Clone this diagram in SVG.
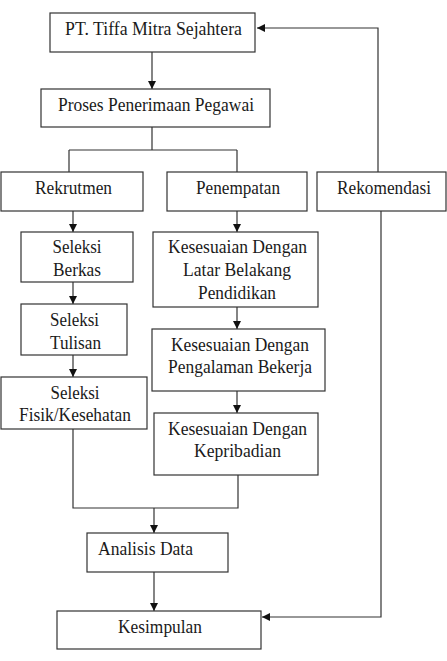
<svg xmlns="http://www.w3.org/2000/svg" width="447" height="661" viewBox="0 0 447 661">
<style>
.box{fill:#fff;stroke:#333;stroke-width:1.2}
.t{font-family:"Liberation Serif","Times New Roman",serif;font-size:18.5px;fill:#1a1a1a;text-anchor:middle}
.c{fill:none;stroke:#333;stroke-width:1.2}
</style>
<defs>
<marker id="ah" viewBox="0 0 10 10" refX="10" refY="5" markerWidth="8" markerHeight="8" markerUnits="userSpaceOnUse" orient="auto">
<path d="M0,0 L10,5 L0,10 z" fill="#111"/>
</marker>
</defs>
<rect width="447" height="661" fill="#fff"/>
<g id="connectors">
<path class="c" d="M152,52 V89" marker-end="url(#ah)"/>
<path class="c" d="M152,127 V150 M69,150 H237 M69,150 V172 M237,150 V172"/>
<path class="c" d="M378,172 V28 H257" marker-end="url(#ah)"/>
<path class="c" d="M381,211 V617 H262" marker-end="url(#ah)"/>
<path class="c" d="M73,211 V232" marker-end="url(#ah)"/>
<path class="c" d="M73,282 V304" marker-end="url(#ah)"/>
<path class="c" d="M73,355 V377" marker-end="url(#ah)"/>
<path class="c" d="M237,211 V232" marker-end="url(#ah)"/>
<path class="c" d="M237,307 V329" marker-end="url(#ah)"/>
<path class="c" d="M237,391 V413" marker-end="url(#ah)"/>
<path class="c" d="M73,429 V508 H238 V475"/>
<path class="c" d="M154,508 V533" marker-end="url(#ah)"/>
<path class="c" d="M154,572 V611" marker-end="url(#ah)"/>
</g>
<g id="n-pt"><rect class="box" x="50" y="13" width="205" height="39"/><text class="t" x="153.5" y="35" textLength="177" lengthAdjust="spacingAndGlyphs">PT. Tiffa Mitra Sejahtera</text></g>
<g id="n-proses"><rect class="box" x="41" y="89" width="229" height="38"/><text class="t" x="156" y="111" textLength="196" lengthAdjust="spacingAndGlyphs">Proses Penerimaan Pegawai</text></g>
<g id="n-rekrutmen"><rect class="box" x="1" y="172" width="142" height="39"/><text class="t" x="73.5" y="194" textLength="77" lengthAdjust="spacingAndGlyphs">Rekrutmen</text></g>
<g id="n-penempatan"><rect class="box" x="167" y="172" width="140" height="39"/><text class="t" x="238" y="194" textLength="84" lengthAdjust="spacingAndGlyphs">Penempatan</text></g>
<g id="n-rekomendasi"><rect class="box" x="317" y="172" width="129" height="39"/><text class="t" x="384" y="194" textLength="94" lengthAdjust="spacingAndGlyphs">Rekomendasi</text></g>
<g id="n-berkas"><rect class="box" x="21" y="232" width="112" height="50"/><text class="t" x="77" y="253" textLength="49" lengthAdjust="spacingAndGlyphs">Seleksi</text><text class="t" x="77" y="276" textLength="48" lengthAdjust="spacingAndGlyphs">Berkas</text></g>
<g id="n-tulisan"><rect class="box" x="21" y="304" width="106" height="51"/><text class="t" x="74.5" y="326" textLength="49" lengthAdjust="spacingAndGlyphs">Seleksi</text><text class="t" x="75.5" y="349" textLength="51" lengthAdjust="spacingAndGlyphs">Tulisan</text></g>
<g id="n-fisik"><rect class="box" x="1" y="377" width="146" height="52"/><text class="t" x="75" y="399" textLength="49" lengthAdjust="spacingAndGlyphs">Seleksi</text><text class="t" x="75" y="421" textLength="112" lengthAdjust="spacingAndGlyphs">Fisik/Kesehatan</text></g>
<g id="n-latar"><rect class="box" x="153" y="232" width="165" height="75"/><text class="t" x="237.5" y="253" textLength="139" lengthAdjust="spacingAndGlyphs">Kesesuaian Dengan</text><text class="t" x="237" y="276" textLength="108" lengthAdjust="spacingAndGlyphs">Latar Belakang</text><text class="t" x="237" y="299" textLength="78" lengthAdjust="spacingAndGlyphs">Pendidikan</text></g>
<g id="n-pengalaman"><rect class="box" x="152" y="329" width="173" height="62"/><text class="t" x="240" y="351" textLength="138" lengthAdjust="spacingAndGlyphs">Kesesuaian Dengan</text><text class="t" x="240" y="373" textLength="144" lengthAdjust="spacingAndGlyphs">Pengalaman Bekerja</text></g>
<g id="n-kepribadian"><rect class="box" x="154" y="413" width="164" height="62"/><text class="t" x="237.5" y="435" textLength="139" lengthAdjust="spacingAndGlyphs">Kesesuaian Dengan</text><text class="t" x="237.5" y="457" textLength="87" lengthAdjust="spacingAndGlyphs">Kepribadian</text></g>
<g id="n-analisis"><rect class="box" x="87" y="533" width="141" height="39"/><text class="t" x="98" y="555" style="text-anchor:start" textLength="95" lengthAdjust="spacingAndGlyphs">Analisis Data</text></g>
<g id="n-kesimpulan"><rect class="box" x="57" y="611" width="204" height="38"/><text class="t" x="160" y="633" textLength="84" lengthAdjust="spacingAndGlyphs">Kesimpulan</text></g>
</svg>
